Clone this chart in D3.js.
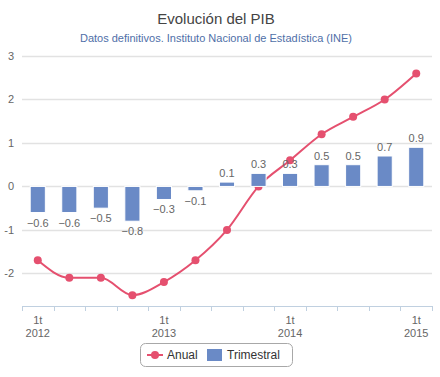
<!DOCTYPE html>
<meta charset="utf-8">
<script src="https://d3js.org/d3.v7.min.js"></script>
<style>
  body { margin: 0; background: #fff; }
  svg text { font-family: "Liberation Sans", Arial, sans-serif; }
</style>
<div id="chart"></div>
<script>

// quarters 2012Q1 .. 2015Q1
var quarters = ["2012T1","2012T2","2012T3","2012T4","2013T1","2013T2","2013T3","2013T4",
                "2014T1","2014T2","2014T3","2014T4","2015T1"];
var anual = [-1.7, -2.1, -2.1, -2.5, -2.2, -1.7, -1.0, 0.0, 0.6, 1.2, 1.6, 2.0, 2.6];
var trimestral = [-0.6, -0.6, -0.5, -0.8, -0.3, -0.1, 0.1, 0.3, 0.3, 0.5, 0.5, 0.7, 0.9];
var yTicks = [-2, -1, 0, 1, 2, 3];

var width = 440, height = 377;
var mLeft = 22, mRight = 432, mTop = 56, mBottom = 306;

var svg = d3.select("#chart").append("svg")
    .attr("width", width)
    .attr("height", height);

// titles
svg.append("text")
    .attr("x", 216).attr("y", 24)
    .attr("text-anchor", "middle")
    .style("font-size", "15px")
    .style("fill", "#444")
    .text("Evolución del PIB");
svg.append("text")
    .attr("x", 216).attr("y", 42)
    .attr("text-anchor", "middle")
    .style("font-size", "11px")
    .style("fill", "#4f6fa8")
    .text("Datos definitivos. Instituto Nacional de Estadística (INE)");

var x = d3.scaleBand()
    .domain(quarters)
    .range([mLeft, mRight])
    .padding(0);

var y = d3.scaleLinear()
    .domain([-2.75, 3])
    .range([mBottom, mTop]);

// grid lines
svg.append("g")
  .selectAll("line")
  .data(yTicks)
  .enter().append("line")
    .attr("x1", mLeft).attr("x2", mRight)
    .attr("y1", function(d) { return Math.round(y(d)) + 0.5; })
    .attr("y2", function(d) { return Math.round(y(d)) + 0.5; })
    .attr("stroke", "#e2e2e2")
    .attr("stroke-width", 1.5);

// y labels
svg.append("g")
  .selectAll("text")
  .data(yTicks)
  .enter().append("text")
    .attr("x", 14)
    .attr("y", function(d) { return y(d) + 4; })
    .attr("text-anchor", "end")
    .style("font-size", "11px")
    .style("fill", "#666")
    .text(function(d) { return d < 0 ? "-" + Math.abs(d) : d; });

// x axis
var xAxis = d3.axisBottom(x)
    .tickSize(0)
    .tickFormat("");
var gx = svg.append("g")
    .attr("transform", "translate(0," + mBottom + ")")
    .call(xAxis);
gx.select(".domain").attr("stroke", "#c0d0e0");

// category boundary ticks
svg.append("g")
  .selectAll("line")
  .data(quarters.concat(["end"]))
  .enter().append("line")
    .attr("x1", function(d, i) { return Math.round(mLeft + i * x.step()) + 0.5; })
    .attr("x2", function(d, i) { return Math.round(mLeft + i * x.step()) + 0.5; })
    .attr("y1", mBottom).attr("y2", mBottom + 5)
    .attr("stroke", "#c0d0e0");

// x labels: first quarter of each year
var firstQ = quarters.filter(function(q) { return q.slice(4) === "T1"; });
var xl = svg.append("g")
  .selectAll("text")
  .data(firstQ)
  .enter().append("text")
    .attr("text-anchor", "middle")
    .style("font-size", "11px")
    .style("fill", "#666");
xl.append("tspan")
    .attr("x", function(d) { return x(d) + x.bandwidth() / 2; })
    .attr("y", mBottom + 18)
    .text("1t");
xl.append("tspan")
    .attr("x", function(d) { return x(d) + x.bandwidth() / 2; })
    .attr("y", mBottom + 31)
    .text(function(d) { return d.slice(0, 4); });

var lineColor = "#e5506f", barColor = "#6a8ac6";

// annual line (spline)
var line = d3.line()
    .x(function(d, i) { return x(quarters[i]) + x.bandwidth() / 2; })
    .y(function(d) { return y(d); })
    .curve(d3.curveMonotoneX);

svg.append("path")
    .datum(anual)
    .attr("d", line)
    .attr("fill", "none")
    .attr("stroke", lineColor)
    .attr("stroke-width", 2);

svg.append("g")
  .selectAll("circle")
  .data(anual)
  .enter().append("circle")
    .attr("cx", function(d, i) { return x(quarters[i]) + x.bandwidth() / 2; })
    .attr("cy", function(d) { return y(d); })
    .attr("r", 4)
    .attr("fill", lineColor);

// quarterly bars
var bw = x.bandwidth() * 0.48;
svg.append("g")
  .selectAll("rect")
  .data(trimestral)
  .enter().append("rect")
    .attr("x", function(d, i) { return x(quarters[i]) + (x.bandwidth() - bw) / 2; })
    .attr("y", function(d) { return y(Math.max(0, d)); })
    .attr("width", bw)
    .attr("height", function(d) { return Math.abs(y(d) - y(0)); })
    .attr("fill", barColor)
    .attr("stroke", "#fff")
    .attr("stroke-width", 1);

svg.append("g")
  .selectAll("text")
  .data(trimestral)
  .enter().append("text")
    .attr("x", function(d, i) { return x(quarters[i]) + x.bandwidth() / 2; })
    .attr("y", function(d) { return d >= 0 ? y(d) - 5 : y(d) + 14; })
    .attr("text-anchor", "middle")
    .style("font-size", "11px")
    .style("fill", "#666")
    .text(function(d) { return d < 0 ? "\u2212" + Math.abs(d) : d; });

// legend
var lg = svg.append("g");
lg.append("rect")
    .attr("x", 140.5).attr("y", 343.5)
    .attr("width", 152).attr("height", 23)
    .attr("rx", 5)
    .attr("fill", "#fff")
    .attr("stroke", "#a8a8a8");
lg.append("line")
    .attr("x1", 147).attr("x2", 163)
    .attr("y1", 355).attr("y2", 355)
    .attr("stroke", lineColor).attr("stroke-width", 2);
lg.append("circle")
    .attr("cx", 155).attr("cy", 355).attr("r", 4)
    .attr("fill", lineColor);
lg.append("text")
    .attr("x", 167).attr("y", 359)
    .style("font-size", "12px")
    .style("fill", "#333")
    .text("Anual");
lg.append("rect")
    .attr("x", 207).attr("y", 349)
    .attr("width", 15).attr("height", 12)
    .attr("fill", barColor);
lg.append("text")
    .attr("x", 227).attr("y", 359)
    .style("font-size", "12px")
    .style("fill", "#333")
    .text("Trimestral");

</script>
